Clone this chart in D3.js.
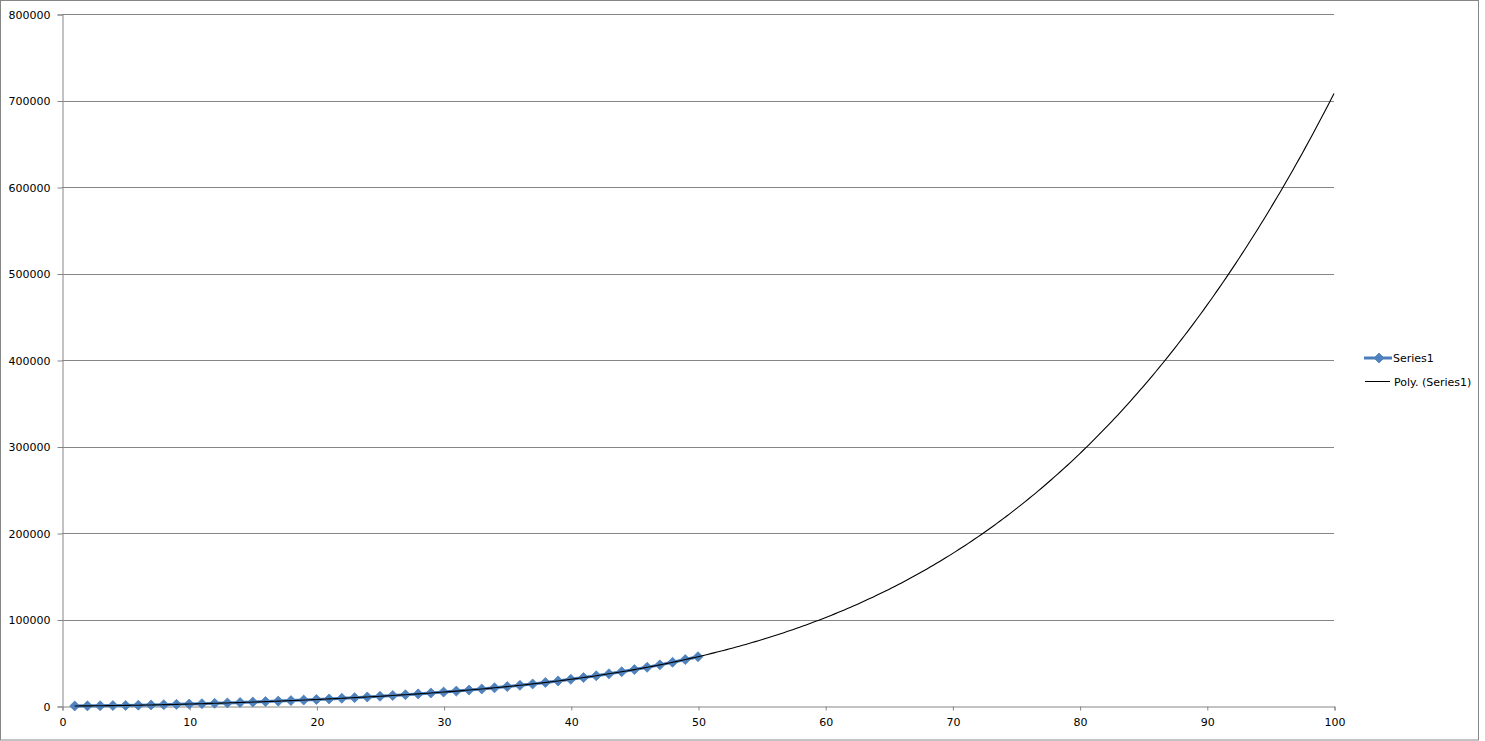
<!DOCTYPE html>
<html>
<head>
<meta charset="utf-8">
<script src="https://cdn.jsdelivr.net/npm/d3@7"></script>
<style>
  html, body { margin: 0; padding: 0; background: #fff; }
  svg { display: block; font-family: "DejaVu Sans", Verdana, sans-serif; }
</style>
</head>
<body>
<div id="chart"></div>
<script>
// x values of Series1
const xValues = [1, 2, 3, 4, 5, 6, 7, 8, 9, 10,
  11, 12, 13, 14, 15, 16, 17, 18, 19, 20,
  21, 22, 23, 24, 25, 26, 27, 28, 29, 30,
  31, 32, 33, 34, 35, 36, 37, 38, 39, 40,
  41, 42, 43, 44, 45, 46, 47, 48, 49, 50];

// y values of Series1
const seriesValues = [60, 150, 300, 480, 700, 950, 1230, 1550, 1890, 2270,
  2670, 3100, 3560, 4040, 4540, 5080, 5640, 6230, 6850, 7500,
  8180, 8890, 9650, 10430, 11260, 12130, 13040, 14010, 15030, 16100,
  17230, 18430, 19690, 21030, 22440, 23940, 25520, 27200, 28980, 30870,
  32860, 34970, 37210, 39580, 42090, 44750, 47560, 50530, 53680, 57000];

// polynomial trendline, coefficients from x^0 up to x^4
const trendCoef = [0, 32.36, 23.773, -0.5318, 0.009988];
const trendRange = [1, 100];

const xTicks = [0, 10, 20, 30, 40, 50, 60, 70, 80, 90, 100];
const yTicks = [0, 100000, 200000, 300000, 400000, 500000, 600000, 700000, 800000];

const seriesName = 'Series1';
const trendName = 'Poly. (Series1)';

const width = 1485;
const height = 741;
const plot = { left: 62, right: 1334, top: 14, bottom: 706 };
const blue = '#4A7EBB';
const grid = '#868686';

const svg = d3.select('#chart').append('svg')
  .attr('width', width)
  .attr('height', height);

// outer chart frame
svg.append('rect')
  .attr('x', 0.5)
  .attr('y', 0.5)
  .attr('width', 1478)
  .attr('height', 739.5)
  .attr('fill', '#fff')
  .attr('stroke', grid)
  .attr('stroke-width', 1);

const xScale = d3.scaleLinear()
  .domain([0, 100])
  .range([plot.left, plot.right]);

const yScale = d3.scaleLinear()
  .domain([0, 800000])
  .range([plot.bottom, plot.top]);

// gridlines
svg.append('g')
  .selectAll('line')
  .data(yTicks.slice(1))
  .enter()
  .append('line')
  .attr('x1', xScale(0))
  .attr('x2', xScale(100))
  .attr('y1', d => Math.round(yScale(d)) + 0.5)
  .attr('y2', d => Math.round(yScale(d)) + 0.5)
  .attr('stroke', grid)
  .attr('stroke-width', 1);

// y axis
const yAxis = d3.axisLeft(yScale)
  .tickValues(yTicks)
  .tickSize(5)
  .tickPadding(7)
  .tickFormat(d3.format('d'));

svg.append('g')
  .attr('transform', `translate(${Math.round(xScale(0)) + 0.5}, 0.5)`)
  .call(yAxis)
  .call(g => g.selectAll('path, line').attr('stroke', grid))
  .call(g => g.selectAll('text').attr('font-size', 11).attr('fill', '#000')
    .attr('font-family', '"DejaVu Sans", Verdana, sans-serif'));

// x axis
const xAxis = d3.axisBottom(xScale)
  .tickValues(xTicks)
  .tickSize(4)
  .tickPadding(8)
  .tickFormat(d3.format('d'));

svg.append('g')
  .attr('transform', `translate(0.5, ${Math.round(yScale(0)) + 0.5})`)
  .call(xAxis)
  .call(g => g.selectAll('path, line').attr('stroke', grid))
  .call(g => g.selectAll('text').attr('font-size', 11).attr('fill', '#000')
    .attr('font-family', '"DejaVu Sans", Verdana, sans-serif'));

const points = xValues.map((x, i) => ({ x: x, y: seriesValues[i] }));

// series line
const line = d3.line()
  .x(d => xScale(d.x))
  .y(d => yScale(d.y));

svg.append('path')
  .datum(points)
  .attr('d', line)
  .attr('fill', 'none')
  .attr('stroke', blue)
  .attr('stroke-width', 3)
  .attr('stroke-linejoin', 'round');

// markers
const diamond = d3.symbol().type(d3.symbolDiamond2).size(64);

svg.append('g')
  .selectAll('path')
  .data(points)
  .enter()
  .append('path')
  .attr('d', diamond)
  .attr('transform', d => `translate(${xScale(d.x)}, ${yScale(d.y)})`)
  .attr('fill', '#4F81BD')
  .attr('stroke', blue)
  .attr('stroke-width', 0.75);

// trendline
const poly = x => trendCoef.reduce((s, c, k) => s + c * Math.pow(x, k), 0);
const trendPts = d3.range(trendRange[0], trendRange[1] + 0.001, 0.25)
  .map(x => ({ x: x, y: poly(x) }));

svg.append('path')
  .datum(trendPts)
  .attr('d', line)
  .attr('fill', 'none')
  .attr('stroke', '#000')
  .attr('stroke-width', 1.1);

// legend
const legend = svg.append('g')
  .attr('font-size', 11)
  .attr('fill', '#000');

legend.append('line')
  .attr('x1', 1364).attr('x2', 1392)
  .attr('y1', 358).attr('y2', 358)
  .attr('stroke', blue)
  .attr('stroke-width', 3);

legend.append('path')
  .attr('d', diamond)
  .attr('transform', 'translate(1379, 358)')
  .attr('fill', '#4F81BD')
  .attr('stroke', blue)
  .attr('stroke-width', 0.75);

legend.append('text')
  .attr('x', 1393)
  .attr('y', 362)
  .text(seriesName);

legend.append('line')
  .attr('x1', 1365).attr('x2', 1390)
  .attr('y1', 381.5).attr('y2', 381.5)
  .attr('stroke', '#000')
  .attr('stroke-width', 1);

legend.append('text')
  .attr('x', 1394)
  .attr('y', 386)
  .text(trendName);
</script>
</body>
</html>
